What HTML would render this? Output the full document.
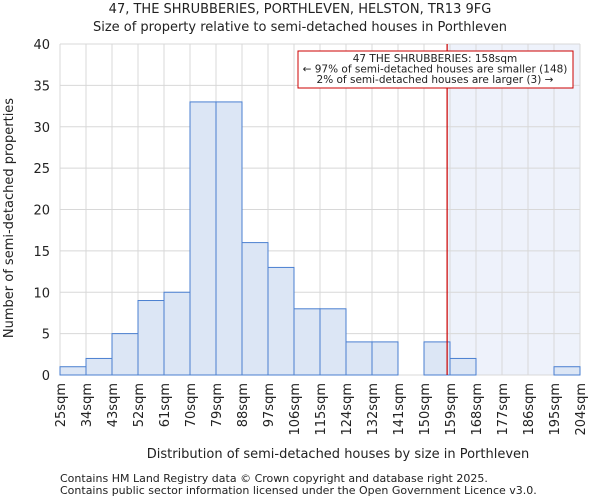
<!DOCTYPE html>
<html><head><meta charset="utf-8"><style>
body{margin:0;background:#fff;font-family:"DejaVu Sans","Liberation Sans",sans-serif}
text{font-family:"DejaVu Sans","Liberation Sans",sans-serif;fill:#222}
</style></head><body>
<svg id="chart" width="600" height="500" viewBox="0 0 600 500">
<text x="300" y="13" font-size="13" text-anchor="middle">47, THE SHRUBBERIES, PORTHLEVEN, HELSTON, TR13 9FG</text>
<text x="300" y="31" font-size="13" text-anchor="middle">Size of property relative to semi-detached houses in Porthleven</text>
<g id="plot"></g>
<text x="338" y="458" font-size="13" text-anchor="middle">Distribution of semi-detached houses by size in Porthleven</text>
<text transform="translate(13,218) rotate(-90)" font-size="13" text-anchor="middle">Number of semi-detached properties</text>
<text x="60" y="482" font-size="11">Contains HM Land Registry data © Crown copyright and database right 2025.</text>
<text x="60" y="494" font-size="11">Contains public sector information licensed under the Open Government Licence v3.0.</text>
</svg>
<script>
const binLabels=["25sqm","34sqm","43sqm","52sqm","61sqm","70sqm","79sqm","88sqm","97sqm","106sqm","115sqm","124sqm","132sqm","141sqm","150sqm","159sqm","168sqm","177sqm","186sqm","195sqm","204sqm"];
const counts=[1,2,5,9,10,33,33,16,13,8,8,4,4,0,4,2,0,0,0,1];
const yTicks=[0,5,10,15,20,25,30,35,40];
const subjectSize=158;
const binEdges=[25,34,43,52,61,70,79,88,97,106,115,124,132,141,150,159,168,177,186,195,204];
const X0=60,X1=580,Y0=375,Y1=44,YMAX=40;
const ns="http://www.w3.org/2000/svg";
const g=document.getElementById('plot');
const bw=(X1-X0)/counts.length;
const xi=i=>X0+i*bw;
const y=v=>Y0-(v/YMAX)*(Y0-Y1);
function xv(v){for(let i=0;i<binEdges.length-1;i++){if(v<=binEdges[i+1])return xi(i)+bw*(v-binEdges[i])/(binEdges[i+1]-binEdges[i]);}return X1;}
function mk(t,a){const e=document.createElementNS(ns,t);for(const k in a)e.setAttribute(k,a[k]);g.appendChild(e);return e;}
const sx=xv(subjectSize);
let e=mk('rect',{x:sx,y:Y1,width:X1-sx,height:Y0-Y1,fill:'#eef2fb'});


for(let i=0;i<=counts.length;i++){e=mk('line',{x1:xi(i),x2:xi(i),y1:Y1,y2:Y0,stroke:'#d8d8d8'});

}
yTicks.forEach(t=>{e=mk('line',{x1:X0,x2:X1,y1:y(t),y2:y(t),stroke:'#d8d8d8'});


e=mk('text',{x:X0-10,y:y(t)+5,'font-size':13,'text-anchor':'end'});e.textContent=t;

});
counts.forEach((c,i)=>{if(c<=0)return;e=mk('rect',{x:xi(i),y:y(c),width:bw,height:Y0-y(c),fill:'#dce6f5',stroke:'#4a7fd0','stroke-width':1});

});
binLabels.forEach((l,i)=>{e=mk('text',{transform:`translate(${xi(i)+5},${Y0+8}) rotate(-90)`,'font-size':13,'text-anchor':'end'});e.textContent=l;

});
e=mk('line',{x1:sx,x2:sx,y1:Y1,y2:Y0,stroke:'#cc0000','stroke-width':1.2});


e=mk('rect',{x:298,y:51,width:275,height:37,fill:'#fff',stroke:'#cc0000'});


["47 THE SHRUBBERIES: 158sqm","← 97% of semi-detached houses are smaller (148)","2% of semi-detached houses are larger (3) →"].forEach((s,k)=>{e=mk('text',{x:435,y:62+k*10.5,'font-size':10.5,'text-anchor':'middle'});e.textContent=s;

});
</script>
</body></html>
